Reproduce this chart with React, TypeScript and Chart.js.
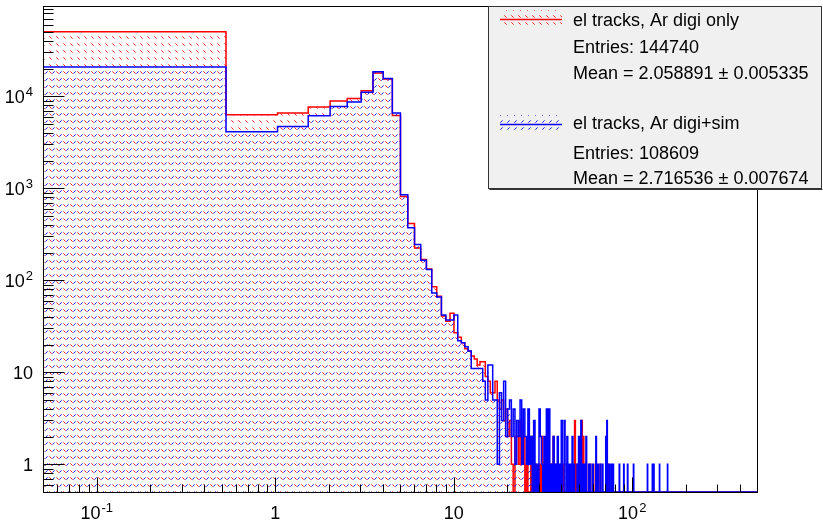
import React, { useEffect, useRef } from 'react';
import { Chart, registerables } from 'chart.js';

Chart.register(...registerables);

// Histogram binning: 0.5-wide bins, first lower edge at 0.03
const BIN_START = 0.03;
const BIN_WIDTH = 0.5;
const N_BINS = 1000;
const X_MIN = 0.05;
const X_MAX = 500;
const Y_MIN = 0.5;
const Y_MAX = 96000;

// "el tracks, Ar digi only": dense part of the spectrum (bins 0 .. 44)
const digiOnlyCounts = [
  50300, 6320, 6580, 7650, 8890, 9490, 11500, 17900, 15400, 6200,
  813, 414, 225, 168, 133, 85, 67, 41, 36, 44,
  27, 24, 21, 18, 17, 15, 14, 12, 13, 13,
  9, 8, 6, 6, 8, 5, 4, 5, 3, 4,
  2, 3, 1, 0, 2,
];
// sparse tail: approximate lower bin edge -> entries
const digiOnlyTailEdges = [22.5, 23, 23.5, 24, 24.5, 25.5, 27, 28, 28.5, 30, 31, 32.5, 33, 35, 36, 37.5, 40, 41, 47.5, 48.5, 52, 53, 55, 58, 62, 66, 73];
const digiOnlyTailCounts = [2, 1, 3, 1, 2, 1, 2, 1, 1, 1, 2, 1, 1, 1, 2, 1, 1, 1, 3, 1, 3, 2, 1, 1, 1, 1, 1];

// "el tracks, Ar digi+sim"
const digiSimCounts = [
  20900, 4130, 4710, 6150, 7780, 8670, 11100, 18500, 15600, 6580,
  853, 372, 245, 165, 131, 73, 66, 42, 37, 37,
  42, 22, 21, 19, 17, 11, 11, 11, 11, 8,
  5, 12, 12, 5, 5, 1, 6, 3, 8, 2,
  4, 5, 2, 4, 1,
];
const digiSimTailEdges = [22.5, 23, 23.5, 24, 24.5, 25, 25.5, 26, 26.5, 27, 28, 29, 30, 30.5, 31, 32, 33, 34, 35, 36, 37, 38, 39, 40, 41.5, 42, 43, 44, 45, 46, 47, 49, 50, 51.5, 52.5, 54, 55, 57, 58, 60, 62.5, 64, 66, 68, 71, 72, 74, 76, 78, 84.5, 89.5, 94, 101.5, 121.5, 129.5, 132, 142, 157.5];
const digiSimTailCounts = [3, 2, 5, 1, 4, 2, 1, 4, 1, 2, 3, 1, 4, 2, 1, 2, 4, 4, 1, 2, 1, 2, 1, 3, 3, 1, 2, 1, 1, 2, 1, 1, 2, 3, 1, 1, 2, 1, 1, 1, 2, 1, 1, 1, 2, 3, 1, 1, 1, 1, 1, 1, 1, 1, 1, 1, 1, 1];

// Axis labels: [mantissa, exponent]
const xTickValues = [0.1, 1, 10, 100];
const xTickLabels: [string, string][] = [['10', '-1'], ['1', ''], ['10', ''], ['10', '2']];
const yTickValues = [1, 10, 100, 1000, 10000];
const yTickLabels: [string, string][] = [['1', ''], ['10', ''], ['10', '2'], ['10', '3'], ['10', '4']];

// Stats / legend box
const seriesNames = ['el tracks, Ar digi only', 'el tracks, Ar digi+sim'];
const seriesEntries = ['Entries: 144740', 'Entries: 108609'];
const seriesMeans = ['Mean = 2.058891 \u00b1 0.005335', 'Mean = 2.716536 \u00b1 0.007674'];

const RED = '#ff0000';
const BLUE = '#0000ff';
const FONT = '"Liberation Sans", Arial, Helvetica, sans-serif';

function fullCounts(dense: number[], tailEdges: number[], tailCounts: number[]): number[] {
  const counts = new Array(N_BINS).fill(0);
  dense.forEach((c, i) => { counts[i] = c; });
  tailEdges.forEach((e, i) => { counts[Math.round(e / BIN_WIDTH)] = tailCounts[i]; });
  return counts;
}

function stepPoints(counts: number[]) {
  const pts: { x: number; y: number }[] = [];
  counts.forEach((c, i) => {
    pts.push({ x: Math.max(BIN_START + i * BIN_WIDTH, X_MIN), y: Math.max(c, Y_MIN) });
  });
  const last = counts[counts.length - 1];
  pts.push({ x: BIN_START + counts.length * BIN_WIDTH, y: Math.max(last, Y_MIN) });
  return pts;
}

// Dotted diagonal hatch tile; the two directions interleave into small chevrons
function makeHatch(color: string, rising: boolean): CanvasPattern | string {
  const tile = document.createElement('canvas');
  tile.width = 7;
  tile.height = 7;
  const g = tile.getContext('2d');
  if (!g) return color;
  g.fillStyle = color;
  if (rising) {
    g.globalAlpha = 0.9;
    g.fillRect(4, 2, 1, 1);
    g.globalAlpha = 0.55;
    g.fillRect(5, 1, 1, 1);
    g.fillRect(3, 3, 1, 1);
  } else {
    g.globalAlpha = 0.9;
    g.fillRect(1, 2, 1, 1);
    g.globalAlpha = 0.55;
    g.fillRect(0, 1, 1, 1);
    g.fillRect(2, 3, 1, 1);
  }
  const p = g.createPattern(tile, 'repeat');
  return p || color;
}

function drawPowerLabel(
  ctx: CanvasRenderingContext2D,
  label: [string, string],
  x: number,
  y: number,
  align: 'center' | 'right',
) {
  const [base, exp] = label;
  ctx.font = `18px ${FONT}`;
  const wb = ctx.measureText(base).width;
  ctx.font = `13px ${FONT}`;
  const we = exp ? ctx.measureText(exp).width + 1 : 0;
  const total = wb + we;
  const left = align === 'center' ? x - total / 2 : x - total;
  ctx.textAlign = 'left';
  ctx.textBaseline = 'alphabetic';
  ctx.font = `18px ${FONT}`;
  ctx.fillText(base, left, y);
  if (exp) {
    ctx.font = `13px ${FONT}`;
    ctx.fillText(exp, left + wb + 1, y - 7);
  }
}

export default function App() {
  const canvasRef = useRef<HTMLCanvasElement | null>(null);

  useEffect(() => {
    const canvas = canvasRef.current;
    if (!canvas) return;
    const redHatch = makeHatch(RED, false);
    const blueHatch = makeHatch(BLUE, true);

    const redCounts = fullCounts(digiOnlyCounts, digiOnlyTailEdges, digiOnlyTailCounts);
    const blueCounts = fullCounts(digiSimCounts, digiSimTailEdges, digiSimTailCounts);

    const axesPlugin = {
      id: 'rootAxes',
      afterDatasetsDraw(chart: Chart) {
        const { ctx, chartArea: a } = chart;
        const xs = chart.scales.x;
        const ys = chart.scales.y;
        ctx.save();
        // frame
        ctx.strokeStyle = '#000';
        ctx.lineWidth = 1;
        ctx.strokeRect(Math.round(a.left) + 0.5, Math.round(a.top) + 0.5, Math.round(a.right - a.left), Math.round(a.bottom - a.top));

        // x ticks (inside, from bottom)
        ctx.beginPath();
        for (let d = -2; d <= 2; d++) {
          for (let k = 1; k <= 9; k++) {
            const v = k * Math.pow(10, d);
            if (v < X_MIN || v > X_MAX) continue;
            const px = Math.round(xs.getPixelForValue(v)) + 0.5;
            const len = k === 1 ? 14.5 : 7.5;
            ctx.moveTo(px, a.bottom);
            ctx.lineTo(px, a.bottom - len);
          }
        }
        // y ticks (inside, from left)
        for (let d = -1; d <= 4; d++) {
          for (let k = 1; k <= 9; k++) {
            const v = k * Math.pow(10, d);
            if (v < Y_MIN || v > Y_MAX) continue;
            const py = Math.round(ys.getPixelForValue(v)) + 0.5;
            const len = k === 1 ? 21.5 : 10.5;
            ctx.moveTo(a.left, py);
            ctx.lineTo(a.left + len, py);
          }
        }
        ctx.stroke();

        ctx.fillStyle = '#000';
        xTickValues.forEach((v, i) => {
          drawPowerLabel(ctx, xTickLabels[i], xs.getPixelForValue(v), 519, 'center');
        });
        yTickValues.forEach((v, i) => {
          drawPowerLabel(ctx, yTickLabels[i], 33, ys.getPixelForValue(v) + 6.5, 'right');
        });

        // stats box
        const bx = 488.5, by = 6.5, bw = 333, bh = 182;
        ctx.fillStyle = '#f0f0f0';
        ctx.fillRect(bx, by, bw, bh);
        ctx.strokeStyle = '#333';
        ctx.lineWidth = 1;
        ctx.strokeRect(bx, by, bw, bh);
        ctx.beginPath();
        ctx.moveTo(bx + 1, by + bh + 1);
        ctx.lineTo(bx + bw + 1, by + bh + 1);
        ctx.stroke();

        const swatches = [
          { y: 10, fill: redHatch, color: RED },
          { y: 115, fill: blueHatch, color: BLUE },
        ];
        const baselines = [[25.5, 53, 79], [129, 158.5, 183.5]];
        swatches.forEach((s, i) => {
          ctx.fillStyle = s.fill as any;
          ctx.fillRect(500, s.y, 62, 18);
          ctx.strokeStyle = s.color;
          ctx.lineWidth = 1.5;
          ctx.beginPath();
          ctx.moveTo(500, s.y + 9.5);
          ctx.lineTo(562, s.y + 9.5);
          ctx.stroke();
          ctx.fillStyle = '#000';
          ctx.font = `18px ${FONT}`;
          ctx.textAlign = 'left';
          ctx.textBaseline = 'alphabetic';
          ctx.fillText(seriesNames[i], 573, baselines[i][0]);
          ctx.fillText(seriesEntries[i], 573, baselines[i][1]);
          ctx.fillText(seriesMeans[i], 573, baselines[i][2]);
        });
        ctx.restore();
      },
    };

    const chart = new Chart(canvas, {
      type: 'line',
      data: {
        datasets: [
          {
            label: seriesNames[1],
            data: stepPoints(blueCounts),
            stepped: true,
            borderColor: BLUE,
            borderWidth: 1.5,
            backgroundColor: blueHatch as any,
            fill: 'start',
            pointRadius: 0,
          },
          {
            label: seriesNames[0],
            data: stepPoints(redCounts),
            stepped: true,
            borderColor: RED,
            borderWidth: 1.5,
            backgroundColor: redHatch as any,
            fill: 'start',
            pointRadius: 0,
          },
        ],
      },
      options: {
        animation: false,
        responsive: false,
        layout: { padding: { left: 43, right: 66, top: 6, bottom: 30 } },
        plugins: { legend: { display: false }, tooltip: { enabled: false } },
        scales: {
          x: { type: 'logarithmic', min: X_MIN, max: X_MAX, display: false },
          y: { type: 'logarithmic', min: Y_MIN, max: Y_MAX, display: false },
        },
      },
      plugins: [axesPlugin],
    });
    return () => chart.destroy();
  }, []);

  return (
    <div style={{ position: 'fixed', left: 0, top: 0, width: 823, height: 522, background: '#fff' }}>
      <canvas ref={canvasRef} width={823} height={522} />
    </div>
  );
}
